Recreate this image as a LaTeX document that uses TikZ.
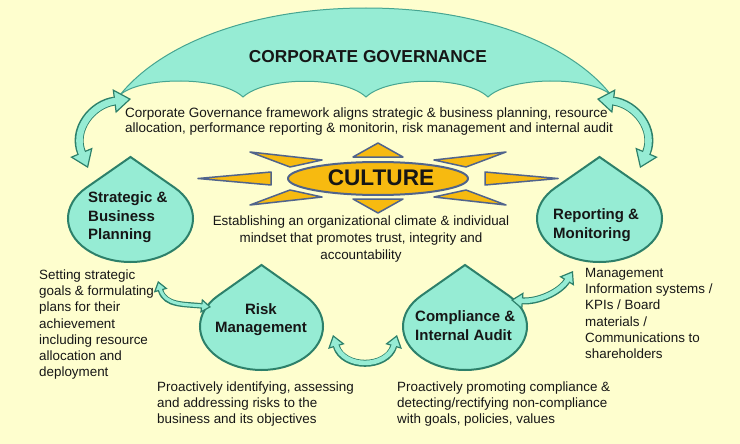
\documentclass[tikz,border=0pt]{standalone}
\usepackage{fontspec}
\setmainfont{Liberation Sans}
\usetikzlibrary{arrows.meta}
\definecolor{bg}{RGB}{254,254,206}
\definecolor{aqua}{RGB}{150,236,212}
\definecolor{tealdk}{RGB}{45,128,106}
\definecolor{tealum}{RGB}{70,165,145}
\definecolor{gold}{RGB}{247,186,16}
\definecolor{slate}{RGB}{80,100,140}
\definecolor{txt}{RGB}{22,22,22}
\newcommand\mytear[5]{%
  \draw[tear] (#2,{#3-1.4142*#5}) -- ++({-0.7071*#4},{0.7071*#5})
    arc[start angle=135,end angle=405,x radius=#4pt,y radius=#5pt] -- cycle;
  \coordinate (#1) at (#2,#3);}
\newcommand\cvarrow[6]{%
  \draw[tealdk, line width=#2, {Triangle[length=#4,width=#5,fill=aqua,line width=1.2pt]}-{Triangle[length=#4,width=#5,fill=aqua,line width=1.2pt]}] #1;
  \draw[aqua, line width=#3, shorten <=#6, shorten >=#6] #1;}
\begin{document}
\begin{tikzpicture}[x=1pt,y=-1pt,
  tear/.style={fill=aqua, draw=tealdk, line width=2pt},
  umb/.style={fill=aqua, draw=tealum, line width=1pt},
  ttl/.style={font=\bfseries\fontsize{15}{18.5}\selectfont, text=txt, inner sep=0pt, align=left},
  desc/.style={font=\fontsize{13.4}{16.2}\selectfont, text=txt, inner sep=0pt, align=left},
  ray/.style={fill=gold, draw=slate, line width=1.5pt, line join=round},
]
\fill[bg] (0,0) rectangle (740,444);
\useasboundingbox (0,0) rectangle (740,444);

% umbrella
\draw[umb] (120,95) .. controls (160,45) and (250,8) .. (366,8)
  .. controls (482,8) and (572,45) .. (611,95)
  .. controls (590,76) and (510,76) .. (488,97)
  .. controls (466,76) and (388,76) .. (366,97)
  .. controls (344,76) and (266,76) .. (243,97)
  .. controls (221,76) and (141,76) .. (120,95) -- cycle;
\node[font=\bfseries\fontsize{17.3}{20}\selectfont, text=txt, inner sep=0pt] (gov) at (368,56.5) {CORPORATE GOVERNANCE};

\node[desc, anchor=base west, font=\fontsize{13.5}{15.7}\selectfont] (fw) at (125,132.7)
  {Corporate Governance framework aligns strategic \& business planning, resource\\allocation, performance reporting \& monitorin, risk management and internal audit};

% culture sun
\draw[ray] (353,157) -- (378,143) -- (403,157) -- cycle;
\draw[ray] (353,199) -- (378,213) -- (403,199) -- cycle;
\draw[ray] (198,178.5) -- (271,172) -- (271,185) -- cycle;
\draw[ray] (558,178.5) -- (485,172) -- (485,185) -- cycle;
\draw[ray] (250,152) -- (322,160) -- (290,167) -- cycle;
\draw[ray] (250,205) -- (322,197) -- (290,190) -- cycle;
\draw[ray] (506,152) -- (434,160) -- (466,167) -- cycle;
\draw[ray] (506,205) -- (434,197) -- (466,190) -- cycle;
\draw[ray, line width=2pt] (378,178.5) ellipse[x radius=90pt, y radius=16.5pt];
\node[font=\bfseries\fontsize{22.6}{26}\selectfont, text=txt, inner sep=0pt] (cul) at (381,177.5) {CULTURE};
\node[desc, align=center, anchor=base, font=\fontsize{13.4}{17}\selectfont] (culd) at (361,259.5)
  {Establishing an organizational climate \& individual\\mindset that promotes trust, integrity and\\accountability};

% teardrops
\mytear{sbp}{130.5}{218.5}{62.5}{43.5}
\mytear{rm}{599.5}{218.5}{62.5}{43.5}
\mytear{risk}{261.5}{326.5}{61.5}{43.5}
\mytear{cia}{465}{326.5}{62}{43.5}
\node[ttl, anchor=base west] (sbpt) at (88,239.5) {Strategic \&\\Business\\Planning};
\node[ttl, anchor=base west] (rmt) at (553,238) {Reporting \&\\Monitoring};
\node[ttl, align=center, anchor=base] (riskt) at (261,332.9) {Risk\\Management};
\node[ttl, anchor=base west] (ciat) at (415,340) {Compliance \&\\Internal Audit};

% descriptions
\node[desc, anchor=base west] (sbpd) at (39,376.7) {Setting strategic\\goals \& formulating\\plans for their\\achievement\\including resource\\allocation and\\deployment};
\node[desc, anchor=base west] (riskd) at (157,423.9) {Proactively identifying, assessing\\and addressing risks to the\\business and its objectives};
\node[desc, anchor=base west] (ciad) at (397,423.9) {Proactively promoting compliance \&\\detecting/rectifying non-compliance\\with goals, policies, values};
\node[desc, anchor=base west] (rmd) at (585,358.5) {Management\\Information systems /\\KPIs / Board\\materials /\\Communications to\\shareholders};

% curved arrows
\coordinate (a1s) at (88,168);  \coordinate (a1e) at (131,99);
\coordinate (a2s) at (640,168); \coordinate (a2e) at (597,99);
\coordinate (a3s) at (158,281); \coordinate (a3e) at (211,307);
\coordinate (a4s) at (511,300); \coordinate (a4e) at (573,271);
\coordinate (a5s) at (333,335); \coordinate (a5e) at (397,335);
\cvarrow{(a1s) .. controls (72,130) and (92,104) .. (a1e)}{9pt}{6.6pt}{17pt}{24pt}{15pt}
\cvarrow{(a2s) .. controls (656,130) and (636,104) .. (a2e)}{9pt}{6.6pt}{17pt}{24pt}{15pt}
\cvarrow{(a3s) .. controls (165,306) and (185,304) .. (a3e)}{5.5pt}{3.1pt}{10pt}{14pt}{8pt}
\cvarrow{(a4s) .. controls (538,302) and (560,292) .. (a4e)}{7pt}{4.6pt}{12pt}{17pt}{10pt}
\cvarrow{(a5s) .. controls (343,369) and (387,369) .. (a5e)}{7pt}{4.6pt}{12pt}{17pt}{10pt}
\end{tikzpicture}
\end{document}
